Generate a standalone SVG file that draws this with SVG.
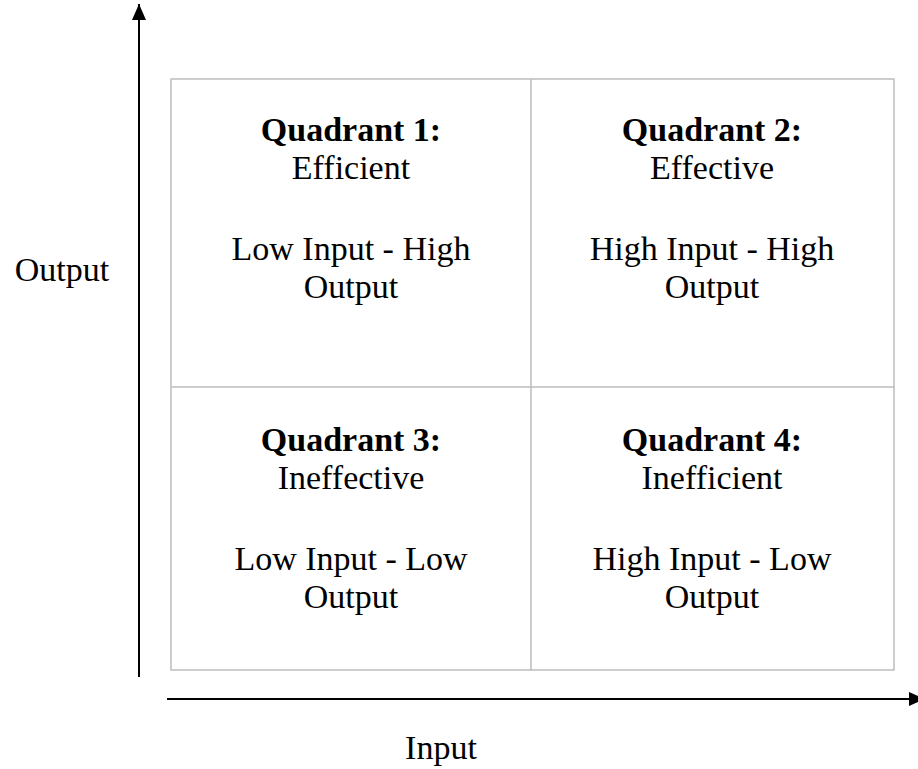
<svg xmlns="http://www.w3.org/2000/svg" width="918" height="769" viewBox="0 0 918 769">
  <style>
    text { font-family: "Liberation Serif", "Times New Roman", serif; font-size: 34px; fill: #000; text-anchor: middle; }
    .title { font-weight: bold; }
    .grid { fill: none; stroke: #bdbdbd; stroke-width: 1.5; }
    .axis { stroke: #000; stroke-width: 2; fill: none; }
  </style>
  <defs>
    <marker id="arrow" viewBox="0 0 16 14" refX="16" refY="7" markerWidth="16" markerHeight="14" orient="auto" markerUnits="userSpaceOnUse">
      <path d="M0,0 L16,7 L0,14 Z" fill="#000"/>
    </marker>
  </defs>
  <rect width="918" height="769" fill="#fff"/>

  <!-- quadrant grid -->
  <g id="grid">
    <rect class="grid" x="171" y="79" width="723" height="591"/>
    <line class="grid" x1="531" y1="79" x2="531" y2="670"/>
    <line class="grid" x1="171" y1="387" x2="894" y2="387"/>
  </g>

  <!-- axes -->
  <g id="connectors">
    <line class="axis" x1="139" y1="677" x2="139" y2="4" marker-end="url(#arrow)"/>
    <line class="axis" x1="167" y1="699" x2="925" y2="699" marker-end="url(#arrow)"/>
  </g>

  <g id="label-output"><text x="62" y="281">Output</text></g>
  <g id="label-input"><text x="441" y="759">Input</text></g>

  <g id="quadrant-1">
    <text class="title" x="351" y="141">Quadrant 1:</text>
    <text x="351" y="179">Efficient</text>
    <text x="351" y="260">Low Input - High</text>
    <text x="351" y="298">Output</text>
  </g>
  <g id="quadrant-2">
    <text class="title" x="712" y="141">Quadrant 2:</text>
    <text x="712" y="179">Effective</text>
    <text x="712" y="260">High Input - High</text>
    <text x="712" y="298">Output</text>
  </g>
  <g id="quadrant-3">
    <text class="title" x="351" y="451">Quadrant 3:</text>
    <text x="351" y="489">Ineffective</text>
    <text x="351" y="570">Low Input - Low</text>
    <text x="351" y="608">Output</text>
  </g>
  <g id="quadrant-4">
    <text class="title" x="712" y="451">Quadrant 4:</text>
    <text x="712" y="489">Inefficient</text>
    <text x="712" y="570">High Input - Low</text>
    <text x="712" y="608">Output</text>
  </g>
</svg>
